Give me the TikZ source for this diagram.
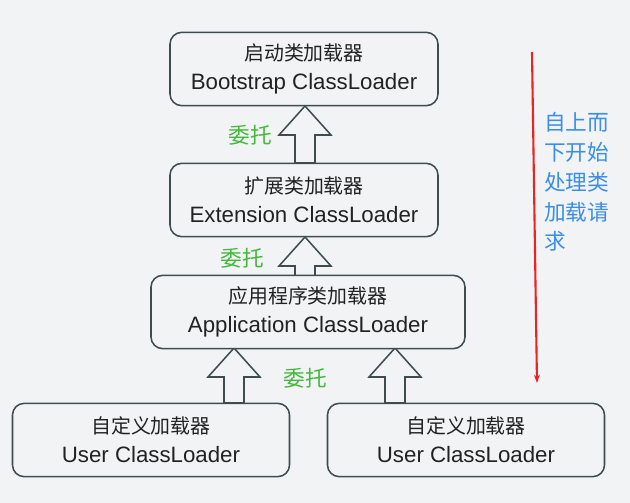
\documentclass[tikz,border=0pt]{standalone}
\usepackage{fontspec}
\setmainfont{Liberation Sans}
\newfontfamily\cjk{Noto Sans CJK SC}
\usepackage{tikz}
\usetikzlibrary{calc,arrows.meta}

\definecolor{bgcol}{HTML}{F2F3F5}
\definecolor{boxline}{HTML}{3E4C4E}
\definecolor{txtcol}{HTML}{222222}
\definecolor{delegate}{HTML}{44B83C}
\definecolor{flowblue}{HTML}{3A8EE6}
\definecolor{flowred}{HTML}{EE2222}

% hollow block arrow: #1 = tip, #2 = foot of the shaft
\newcommand{\upblock}[2]{%
  \draw[blockarrow] (#1) -- ($(#1)+(26,29)$) -- ($(#1)+(10,29)$)
    -- ($(#2)+(10,0)$) -- ($(#2)+(-10,0)$) -- ($(#1)+(-10,29)$)
    -- ($(#1)+(-26,29)$) -- cycle;}

\begin{document}
\begin{tikzpicture}[x=0.03cm,y=-0.03cm,
  loader/.style={draw=boxline, line width=1.3pt, rounded corners=10pt,
    fill=bgcol, minimum height=2.2cm, align=center, text=txtcol,
    font=\fontsize{19}{24.5}\selectfont},
  blockarrow/.style={draw=boxline, line width=1.3pt, fill=bgcol,
    line join=miter},
  wt/.style={text=delegate, font=\cjk\fontsize{18.5}{22}\selectfont},
  note/.style={text=flowblue, align=left, anchor=north west,
    font=\cjk\fontsize{18.5}{25.5}\selectfont}]

% background
\fill[bgcol] (0,0) rectangle (630,503);
\useasboundingbox (0,0) rectangle (630,503);

% arrows first, boxes are drawn over them
\coordinate (a1) at (305,106);
\coordinate (a1f) at (305,163);
\coordinate (a2) at (305,237);
\coordinate (a2f) at (305,276);
\coordinate (a3) at (234,348);
\coordinate (a3f) at (234,403);
\coordinate (a4) at (395,348);
\coordinate (a4f) at (395,403);
\upblock{a1}{a1f}
\upblock{a2}{a2f}
\upblock{a3}{a3f}
\upblock{a4}{a4f}

% loaders
\node[loader, minimum width=8.04cm] (boot) at (304,69)
  {{\cjk\fontsize{17}{24.5}\selectfont 启动类加载器}\\Bootstrap ClassLoader};
\node[loader, minimum width=8.04cm] (ext) at (304,200)
  {{\cjk\fontsize{17}{24.5}\selectfont 扩展类加载器}\\Extension ClassLoader};
\node[loader, minimum width=9.42cm] (app) at (308,312)
  {{\cjk\fontsize{17}{24.5}\selectfont 应用程序类加载器}\\Application ClassLoader};
\node[loader, minimum width=8.31cm] (user1) at (151,440)
  {{\cjk\fontsize{17}{24.5}\selectfont 自定义加载器}\\User ClassLoader};
\node[loader, minimum width=8.31cm] (user2) at (466,440)
  {{\cjk\fontsize{17}{24.5}\selectfont 自定义加载器}\\User ClassLoader};

% labels
\node[wt] (wt1) at (250,135) {委托};
\node[wt] (wt2) at (242,258) {委托};
\node[wt] (wt3) at (305,378) {委托};

% top-down request flow
\coordinate (flowtop) at (532,52);
\coordinate (flowend) at (537,383);
\draw[flowred, line width=1.8pt, -{Stealth[length=7pt,width=5pt]}] (flowtop) -- (flowend);
\node[note] (flow) at (540,108) {自上而\\下开始\\处理类\\加载请\\求};

\end{tikzpicture}
\end{document}
